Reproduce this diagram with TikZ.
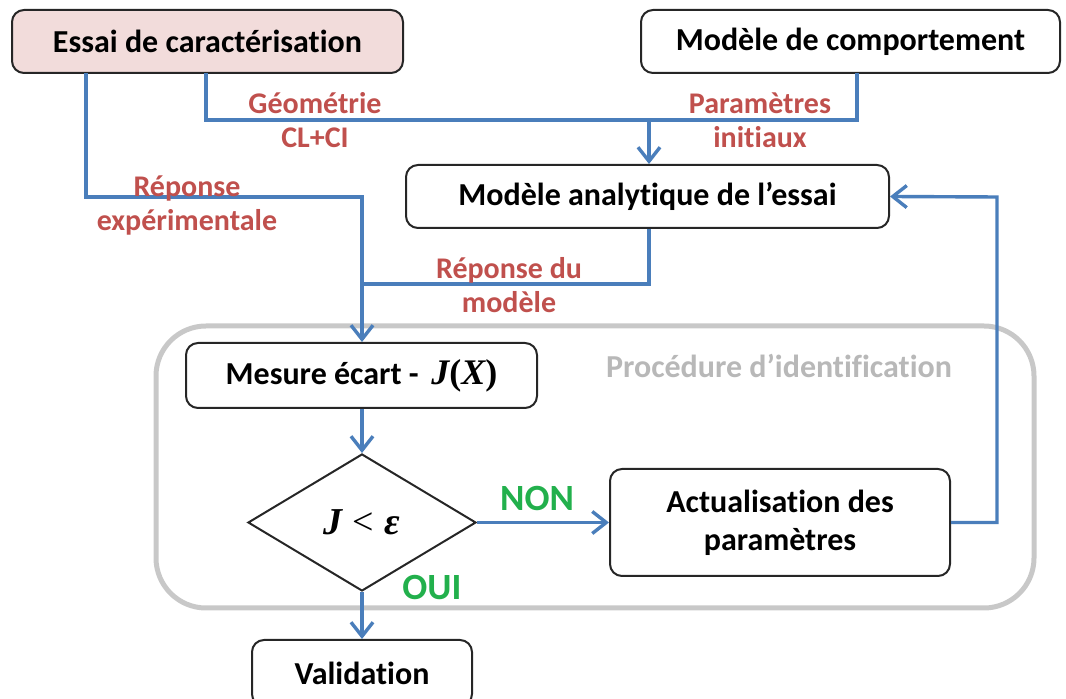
\documentclass[tikz,border=0pt]{standalone}
\usepackage{fontspec}
\setmainfont{Carlito}[Ligatures=NoCommon]
\newfontfamily\formule{Liberation Serif}
\usetikzlibrary{shapes.geometric,arrows.meta}
\definecolor{fleche}{HTML}{4A7EBB}
\definecolor{rouge}{HTML}{C0504D}
\definecolor{vert}{HTML}{22B04C}
\definecolor{rose}{HTML}{F2DCDB}
\definecolor{cadre}{HTML}{C8C8C8}
\tikzset{
	boite/.style={draw=black!85,line width=1pt,rounded corners=6pt,inner sep=2pt,align=center,font=\fontsize{16}{19}\selectfont\bfseries},
	lien/.style={draw=fleche,line width=1.7pt},
	fl/.style={lien,-{Straight Barb[length=7pt,width=11pt,line width=1.7pt]}},
	etiq/.style={text=rouge,align=center,font=\fontsize{15}{17}\selectfont\bfseries},
	choix/.style={text=vert,font=\fontsize{18.5}{20}\selectfont\bfseries}
}
\begin{document}
\begin{tikzpicture}[x=0.5pt,y=-0.5pt]
			\useasboundingbox (0,0) rectangle (1066,699);
			\draw[cadre,line width=2.5pt,rounded corners=25pt] (156,326) rectangle (1034,608);%procedure
			\node (proc) at (779,366) [text=cadre!92!black,font=\fontsize{16}{18}\selectfont\bfseries] {Procédure d’identification};
			
			\node (essai) at (207.5,41.5) [boite,fill=rose,minimum width=195.5pt,minimum height=31.5pt] {Essai de caractérisation};
			\node (comp) at (850.5,41.5) [boite,fill=white,minimum width=209.5pt,minimum height=31.5pt] {Modèle de comportement};
			\node (ana) at (647.5,196.5) [boite,minimum width=241.5pt,minimum height=31.5pt] {Modèle analytique de l’essai};
			\node (mes) at (361.5,375.5) [boite,minimum width=175.5pt,minimum height=32.5pt] {Mesure écart - \,{\fontsize{18}{19}\selectfont\formule\itshape J}{\fontsize{18}{19}\selectfont\formule(\itshape X\upshape)}};
			\node (test) at (362,522.5) [draw=black!85,line width=1pt,shape=diamond,inner sep=0pt,minimum width=114pt,minimum height=68.5pt,font=\fontsize{19}{21}\selectfont\formule\bfseries] {\itshape J\;{\mdseries\upshape<}\;\itshape ε};
			\node (act) at (780,522.5) [boite,minimum width=170pt,minimum height=53.5pt] {Actualisation des\\paramètres};
			\node (val) at (362,673) [boite,minimum width=110pt,minimum height=33pt] {Validation};
			
			\coordinate (e1) at (86,73);
			\coordinate (e2) at (206,73);
			\coordinate (c1) at (857,73);
			\coordinate (j1) at (649,120);
			\coordinate (j2) at (362,284);
			\coordinate (r1) at (997,197);
			
			\draw[lien] (e1) |- (362,197) -- (j2);
			\draw[lien] (e2) |- (j1);
			\draw[lien] (c1) |- (j1);
			\draw[fl] (j1) -- (ana.north -| j1);
			\draw[lien] (ana.south -| j1) |- (j2);
			\draw[fl] (j2) -- (mes.north -| j2);
			\draw[fl] (mes.south -| test.north) -- (test.north);
			\draw[fl] (test.east) -- (act.west);
			\draw[fl] (act.east) -| (r1) -- (ana.east);
			\draw[fl] (test.south) -- (val.north);
			
			\node (geo) at (315,120) [etiq] {Géométrie\\CL+CI};
			\node (par) at (760,120) [etiq] {Paramètres\\initiaux};
			\node (rexp) at (187,206) [etiq] {Réponse\\expérimentale};
			\node (rmod) at (509,285) [etiq] {Réponse du\\modèle};
			\node (non) at (537,498) [choix] {NON};
			\node (oui) at (432,588) [choix] {OUI};
		\end{tikzpicture}
\end{document}
